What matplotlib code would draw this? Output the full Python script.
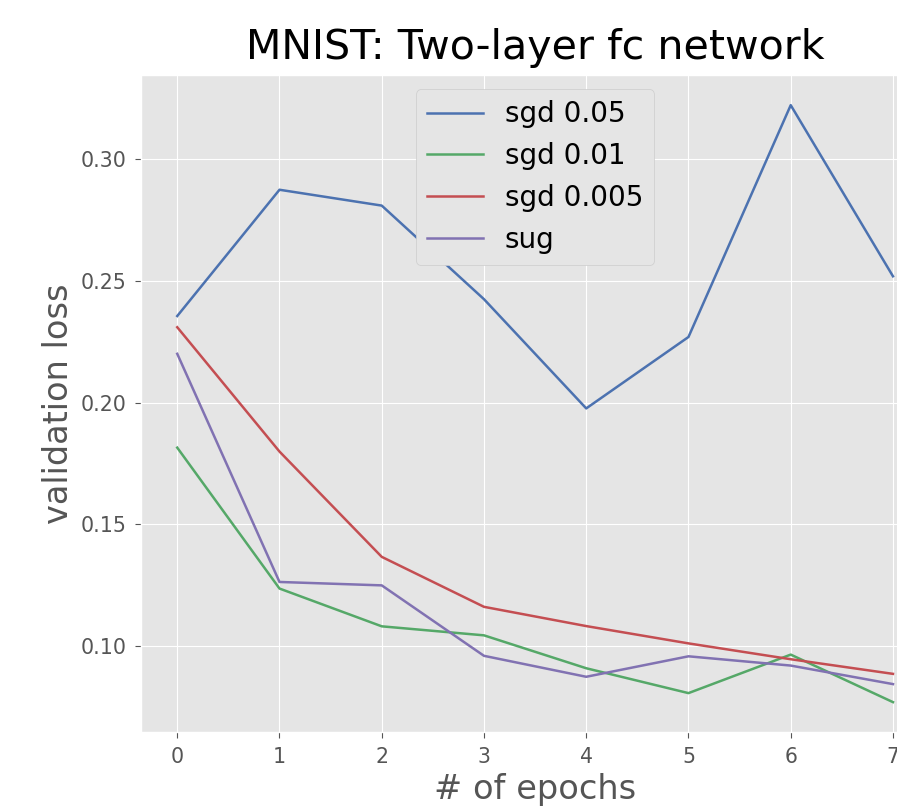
import matplotlib
matplotlib.use('Agg')
import matplotlib.pyplot as plt

# Données
epochs = [0, 1, 2, 3, 4, 5, 6, 7]
sgd_005 = [0.2355, 0.2873, 0.2808, 0.2424, 0.1976, 0.2269, 0.3220, 0.2518]
sgd_001 = [0.1815, 0.1237, 0.1082, 0.1045, 0.0910, 0.0808, 0.0966, 0.0771]
sgd_0005 = [0.2309, 0.1799, 0.1367, 0.1162, 0.1083, 0.1012, 0.0947, 0.0887]
sug = [0.2200, 0.1264, 0.1250, 0.0961, 0.0875, 0.0959, 0.0921, 0.0845]
noms = ['sgd 0.05', 'sgd 0.01', 'sgd 0.005', 'sug']
couleurs = ['#4C72B0', '#55A868', '#C44E52', '#8172B2']

plt.style.use('ggplot')

fig = plt.figure(figsize=(8.97, 8.09), dpi=100)
ax = fig.add_axes([0.1577, 0.0952, 0.8777, 0.8117])

for valeurs, nom, couleur in zip([sgd_005, sgd_001, sgd_0005, sug], noms, couleurs):
    ax.plot(epochs, valeurs, color=couleur, linewidth=1.8, label=nom)

ax.set_xticks(epochs)
ax.set_yticks([0.10, 0.15, 0.20, 0.25, 0.30])
ax.set_yticklabels(['0.10', '0.15', '0.20', '0.25', '0.30'])
ax.tick_params(labelsize=14.8, colors='#555555', length=4.5, pad=6.5)

ax.set_title("MNIST: Two-layer fc network", fontsize=29.6, color='black', pad=12)
ax.set_xlabel("# of epochs", fontsize=24.2, color='#555555')
ax.set_ylabel("validation loss", fontsize=24.2, color='#555555')

ax.legend(loc='upper center', fontsize=20, facecolor='#E5E5E5',
          edgecolor='#CCCCCC', framealpha=1)

fig.savefig('out.png', dpi=100)
